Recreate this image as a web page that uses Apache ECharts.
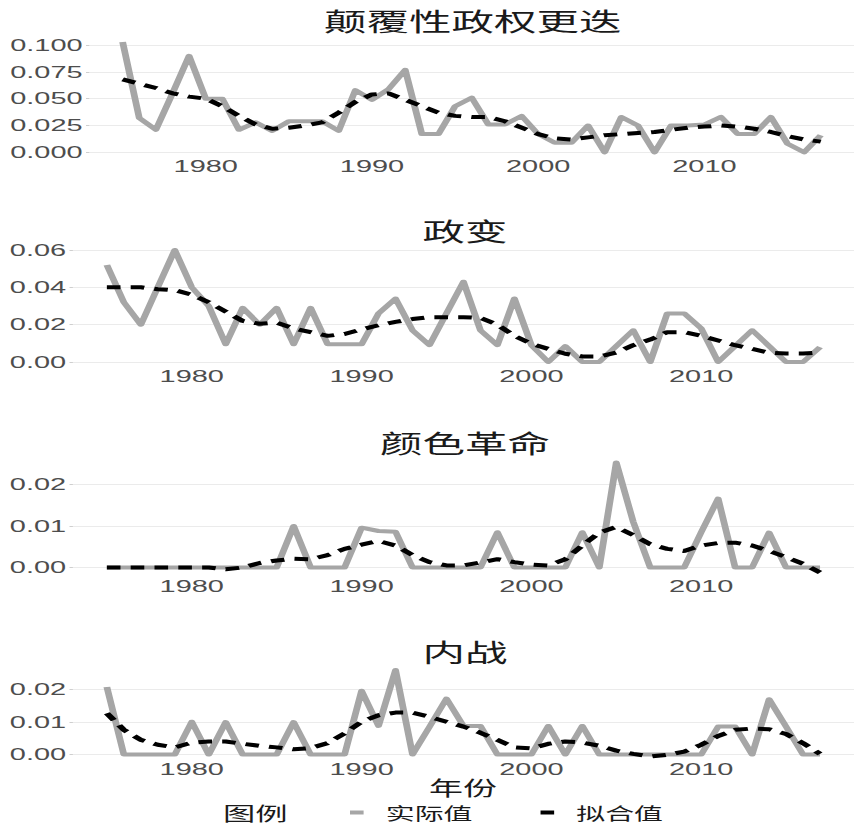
<!DOCTYPE html>
<html>
<head>
<meta charset="utf-8">
<title>颠覆性政权更迭 / 政变 / 颜色革命 / 内战</title>
<script src="https://cdn.jsdelivr.net/npm/echarts@6/dist/echarts.min.js"></script>
<style>
  html, body { margin: 0; padding: 0; background: #fff; overflow: hidden; }
  /* 原图整体被横向拉宽了，用窄画布再横向拉伸来还原 */
  #main { width: 502px; height: 827px; transform: scaleX(1.7012); transform-origin: 0 0; }
</style>
</head>
<body>
<div id="main"></div>
<script>
// 数据
const years = [1975, 1976, 1977, 1978, 1979, 1980, 1981, 1982, 1983, 1984,
  1985, 1986, 1987, 1988, 1989, 1990, 1991, 1992, 1993, 1994,
  1995, 1996, 1997, 1998, 1999, 2000, 2001, 2002, 2003, 2004,
  2005, 2006, 2007, 2008, 2009, 2010, 2011, 2012, 2013, 2014,
  2015, 2016, 2017];

const panelTitles = ['颠覆性政权更迭', '政变', '颜色革命', '内战'];
const legendNames = ['实际值', '拟合值'];
const xTicks = [1980, 1990, 2000, 2010];
const yTicksSubversion = [0, 0.025, 0.05, 0.075, 0.1];
const yTicksCoup = [0, 0.02, 0.04, 0.06];
const yTicksColor = [0, 0.01, 0.02];
const yTicksCivilWar = [0, 0.01, 0.02];

const subversionActual = [0.103, 0.032, 0.021, 0.055, 0.090, 0.050, 0.050, 0.021, 0.028, 0.020,
  0.029, 0.029, 0.029, 0.020, 0.058, 0.049, 0.059, 0.077, 0.017, 0.017,
  0.043, 0.051, 0.026, 0.026, 0.034, 0.017, 0.009, 0.009, 0.025, 0.000,
  0.033, 0.025, 0.000, 0.025, 0.025, 0.026, 0.033, 0.017, 0.017, 0.033,
  0.008, 0.000, 0.016];
const subversionFit = [0.068, 0.064, 0.060, 0.055, 0.052, 0.050, 0.043, 0.034, 0.026, 0.022,
  0.023, 0.025, 0.028, 0.037, 0.047, 0.054, 0.055, 0.049, 0.043, 0.037,
  0.034, 0.033, 0.033, 0.029, 0.023, 0.017, 0.013, 0.012, 0.014, 0.016,
  0.017, 0.018, 0.019, 0.021, 0.023, 0.024, 0.025, 0.024, 0.022, 0.019,
  0.015, 0.012, 0.010];

const coupActual = [0.052, 0.032, 0.020, 0.040, 0.060, 0.040, 0.030, 0.0095, 0.029, 0.020,
  0.029, 0.0095, 0.029, 0.0095, 0.0095, 0.0095, 0.026, 0.034, 0.017, 0.009,
  0.026, 0.043, 0.017, 0.009, 0.034, 0.009, 0.000, 0.0085, 0.000, 0.000,
  0.0085, 0.017, 0.000, 0.026, 0.026, 0.018, 0.000, 0.0085, 0.017, 0.0085,
  0.000, 0.000, 0.008];
const coupFit = [0.040, 0.040, 0.040, 0.039, 0.0385, 0.036, 0.032, 0.027, 0.022, 0.0205,
  0.021, 0.018, 0.016, 0.014, 0.015, 0.0175, 0.0197, 0.0215, 0.023, 0.024,
  0.024, 0.024, 0.0236, 0.020, 0.014, 0.0098, 0.007, 0.0044, 0.003, 0.003,
  0.005, 0.009, 0.012, 0.016, 0.016, 0.014, 0.0115, 0.009, 0.007, 0.005,
  0.0045, 0.0045, 0.005];

const colorActual = [0, 0, 0, 0, 0, 0, 0, 0, 0, 0,
  0, 0.010, 0, 0, 0, 0.0096, 0.0088, 0.0086, 0, 0,
  0, 0, 0, 0.0085, 0, 0, 0, 0, 0.0085, 0,
  0.0253, 0.011, 0, 0, 0, 0.0085, 0.0166, 0, 0, 0.0084,
  0, 0, 0];
const colorFit = [0, 0, 0, 0, 0, 0, 0, -0.0004, 0, 0.0011,
  0.0017, 0.0021, 0.002, 0.003, 0.0045, 0.0055, 0.0064, 0.0053, 0.003, 0.0013,
  0.0005, 0.0005, 0.0012, 0.002, 0.0013, 0.0007, 0.0005, 0.002, 0.0053, 0.0084,
  0.0098, 0.0078, 0.0056, 0.0045, 0.004, 0.0053, 0.0059, 0.006, 0.0053, 0.004,
  0.0025, 0.0009, -0.0012];

const civilWarActual = [0.0208, 0, 0, 0, 0, 0.0101, 0, 0.010, 0, 0,
  0, 0.010, 0, 0, 0, 0.0196, 0.0088, 0.026, 0, 0.0085,
  0.0172, 0.0088, 0.0088, 0, 0, 0, 0.0088, 0, 0.0088, 0,
  0, 0, 0, 0, 0, 0, 0.0086, 0.0086, 0, 0.017,
  0.0086, 0, 0];
const civilWarFit = [0.0127, 0.0076, 0.0045, 0.003, 0.0022, 0.0037, 0.004, 0.004, 0.0033, 0.0027,
  0.0022, 0.0016, 0.002, 0.0035, 0.0065, 0.0101, 0.0121, 0.0129, 0.0129, 0.0116,
  0.0101, 0.0086, 0.0067, 0.0045, 0.0022, 0.0019, 0.0033, 0.004, 0.0037, 0.0027,
  0.0012, 0.0002, -0.0006, -0.0001, 0.0009, 0.003, 0.0057, 0.0076, 0.008, 0.0078,
  0.0063, 0.0035, 0.0002];

// 布局（原图像素，横向再除以拉伸比例）
const SX = 1.7012;
const px = v => v / SX;
const pair = arr => years.map((y, i) => [y, arr[i]]);

const panels = [
  { title: panelTitles[0], actual: subversionActual, fit: subversionFit, ticks: yTicksSubversion, digits: 3,
    min: -0.005, max: 0.11, left: 89.4, width: 766.8, top: 34.4, height: 123.3, titleY: 20 },
  { title: panelTitles[1], actual: coupActual, fit: coupFit, ticks: yTicksCoup, digits: 2,
    min: -0.003, max: 0.063, left: 72.9, width: 784.3, top: 244.4, height: 123.2, titleY: 230 },
  { title: panelTitles[2], actual: colorActual, fit: colorFit, ticks: yTicksColor, digits: 2,
    min: -0.0025, max: 0.0268, left: 72.9, width: 784.3, top: 456.3, height: 121.6, titleY: 442 },
  { title: panelTitles[3], actual: civilWarActual, fit: civilWarFit, ticks: yTicksCivilWar, digits: 2,
    min: -0.0018, max: 0.0273, left: 72.9, width: 784.3, top: 665.8, height: 94.6, titleY: 651.5 }
];

const numFont = 'Liberation Sans, Arial, sans-serif';
const cjkFont = 'Noto Sans CJK SC, sans-serif';
const grey = '#a6a6a6';

const grid = [], xAxis = [], yAxis = [], series = [], graphic = [];
panels.forEach((p, i) => {
  grid.push({ left: px(p.left), width: px(p.width), top: p.top, height: p.height, containLabel: false });
  xAxis.push({
    gridIndex: i, type: 'value', min: 1973, max: 2019,
    axisLine: { show: false }, axisTick: { show: false }, splitLine: { show: false },
    axisLabel: { customValues: xTicks, formatter: v => String(v), margin: 0,
      fontSize: 17, color: '#4d4d4d', fontFamily: numFont }
  });
  yAxis.push({
    gridIndex: i, type: 'value', min: p.min, max: p.max,
    axisLine: { show: false },
    axisTick: { show: true, length: 2, customValues: p.ticks, lineStyle: { color: '#cfcfcf' } },
    splitLine: { show: true, lineStyle: { color: '#ebebeb', width: 1.2 } },
    axisLabel: { customValues: p.ticks, formatter: v => v.toFixed(p.digits), margin: 4,
      fontSize: 17, color: '#4d4d4d', fontFamily: numFont }
  });
  series.push({
    name: legendNames[0], type: 'line', xAxisIndex: i, yAxisIndex: i,
    data: pair(p.actual), symbol: 'none', silent: true, z: 2,
    itemStyle: { color: grey },
    lineStyle: { color: grey, width: 4, join: 'round' }
  });
  series.push({
    name: legendNames[1], type: 'line', xAxisIndex: i, yAxisIndex: i,
    data: pair(p.fit), symbol: 'none', silent: true, z: 3,
    itemStyle: { color: '#000' },
    lineStyle: { color: '#000', width: 4, type: [8, 6] }
  });
  graphic.push({
    type: 'text', x: px(p.left + p.width / 2), y: p.titleY,
    style: { text: p.title, fontSize: 25, fontFamily: cjkFont, fill: '#1a1a1a', align: 'center', verticalAlign: 'middle' }
  });
});

graphic.push({
  type: 'text', x: px(463), y: 787,
  style: { text: '年份', fontSize: 20, fontFamily: cjkFont, fill: '#1a1a1a', align: 'center', verticalAlign: 'middle' }
});
graphic.push({
  type: 'text', x: px(223), y: 813,
  style: { text: '图例', fontSize: 19, fontFamily: cjkFont, fill: '#1a1a1a', align: 'left', verticalAlign: 'middle' }
});

const chart = echarts.init(document.getElementById('main'), null, { renderer: 'svg', width: 502, height: 827 });
const option = {
  animation: false,
  backgroundColor: '#fff',
  grid, xAxis, yAxis, series, graphic,
  legend: {
    data: legendNames,
    left: px(350), top: 804, padding: 0,
    icon: 'rect', itemWidth: 8, itemHeight: 4, itemGap: 40,
    textStyle: { fontSize: 17, fontFamily: cjkFont, color: '#1a1a1a', padding: [0, 0, 0, 8] }
  }
};
chart.setOption(option);
</script>
</body>
</html>
